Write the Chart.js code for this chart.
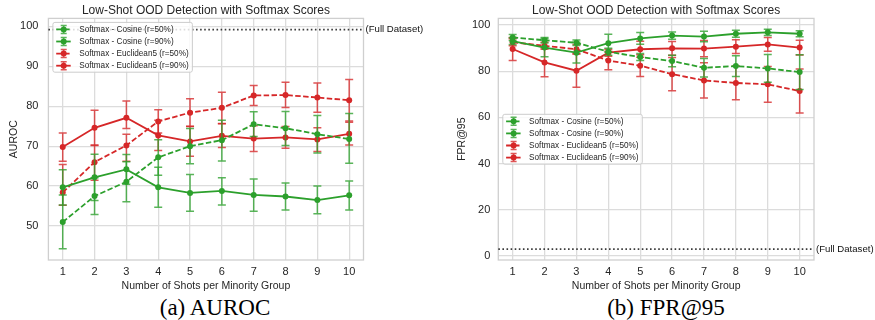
<!DOCTYPE html>
<html><head><meta charset="utf-8">
<script src="https://cdn.jsdelivr.net/npm/chart.js@4.4.0/dist/chart.umd.min.js"></script>
<style>
html,body{margin:0;padding:0;background:#fff;width:875px;height:320px;overflow:hidden;position:relative;}
.wrap{position:absolute;top:0;height:295px;}
.cap{position:absolute;top:295px;height:26px;line-height:26px;width:200px;text-align:center;font-family:"Liberation Serif","Times New Roman",serif;font-size:23px;color:#000;}
</style></head><body>
<div class="wrap" style="left:0;width:437px"><canvas id="c1" width="437" height="295"></canvas></div>
<div class="wrap" style="left:437px;width:438px"><canvas id="c2" width="438" height="295"></canvas></div>
<div class="cap" style="left:115px">(a) AUROC</div>
<div class="cap" style="left:566px">(b) FPR@95</div>
<script>
// ---------- data ----------
const shots = [1, 2, 3, 4, 5, 6, 7, 8, 9, 10];
const seriesLabels = ["Softmax - Cosine (r=50%)", "Softmax - Cosine (r=90%)", "Softmax - Euclidean5 (r=50%)", "Softmax - Euclidean5 (r=90%)"];
const chartTitle = "Low-Shot OOD Detection with Softmax Scores";
const xTitle = "Number of Shots per Minority Group";
const fullLabel = "(Full Dataset)";

// AUROC
const aurocCos50   = [51.0, 57.5, 61.1, 67.2, 70.0, 71.5, 75.5, 74.5, 73.0, 71.8];
const aurocCos50Lo = [44.3, 52.9, 56.1, 62.7, 65.6, 66.3, 72.4, 70.2, 68.3, 65.7];
const aurocCos50Hi = [57.8, 62.1, 66.1, 71.6, 74.4, 76.5, 78.6, 78.7, 77.7, 78.2];
const aurocCos90   = [59.7, 62.2, 64.2, 59.7, 58.3, 58.8, 57.8, 57.4, 56.5, 57.7];
const aurocCos90Lo = [55.3, 56.4, 60.5, 54.7, 53.7, 55.3, 53.7, 54.0, 53.1, 54.0];
const aurocCos90Hi = [64.1, 68.0, 67.9, 64.7, 62.9, 62.1, 61.8, 60.8, 60.0, 61.3];
const aurocEuc50   = [58.4, 66.0, 70.2, 76.2, 78.4, 79.6, 82.7, 82.8, 82.2, 81.5];
const aurocEuc50Lo = [55.2, 61.5, 66.2, 73.3, 75.0, 75.7, 80.2, 79.7, 78.5, 76.3];
const aurocEuc50Hi = [65.4, 70.3, 73.0, 79.1, 81.9, 83.5, 85.2, 86.0, 85.8, 86.7];
const aurocEuc90   = [69.8, 74.6, 77.1, 72.7, 71.2, 72.6, 71.9, 72.2, 71.7, 73.1];
const aurocEuc90Lo = [66.2, 70.2, 74.4, 68.9, 67.5, 69.7, 68.7, 69.5, 68.7, 70.3];
const aurocEuc90Hi = [73.3, 79.0, 81.3, 76.5, 74.9, 75.6, 75.1, 74.9, 74.6, 76.0];
const aurocFull = 99.2;
const aurocTicks = [50, 60, 70, 80, 90, 100];

// FPR@95
const fprCos50   = [94.6, 93.4, 92.3, 88.4, 86.1, 84.4, 81.5, 82.2, 81.2, 79.6];
const fprCos50Lo = [93.3, 92.2, 91.1, 86.9, 84.6, 81.9, 77.5, 77.7, 75.2, 72.1];
const fprCos50Hi = [95.9, 94.6, 93.5, 89.9, 87.6, 86.9, 85.5, 86.7, 87.2, 87.1];
const fprCos90   = [93.0, 90.2, 88.0, 92.1, 94.2, 95.4, 95.0, 96.2, 96.8, 96.2];
const fprCos90Lo = [91.5, 86.2, 83.5, 88.2, 91.7, 93.8, 92.7, 94.7, 95.5, 94.9];
const fprCos90Hi = [94.5, 94.2, 92.5, 96.0, 96.7, 97.0, 97.3, 97.7, 98.1, 97.5];
const fprEuc50   = [92.5, 91.0, 89.5, 84.6, 82.4, 78.7, 76.0, 74.9, 74.3, 71.4];
const fprEuc50Lo = [91.0, 89.5, 87.5, 80.6, 77.7, 71.5, 68.4, 67.6, 66.6, 61.9];
const fprEuc50Hi = [94.0, 92.5, 91.5, 88.6, 87.1, 85.9, 83.6, 82.2, 82.0, 80.9];
const fprEuc90   = [89.6, 83.8, 80.2, 88.0, 89.5, 89.9, 89.8, 90.6, 91.6, 90.2];
const fprEuc90Lo = [84.6, 77.6, 73.0, 86.5, 86.0, 86.9, 86.3, 87.6, 88.6, 87.0];
const fprEuc90Hi = [94.6, 90.0, 87.4, 89.5, 93.0, 92.9, 93.3, 93.6, 94.6, 93.4];
const fprFull = 3.0;
const fprTicks = [0, 20, 40, 60, 80, 100];

// ---------- styling ----------
const GREEN = '#2ca02c', RED = '#d62728';
const TEXT = '#262626';
const FONT = '"Liberation Sans", Arial, Helvetica, sans-serif';
Chart.defaults.font.family = FONT;
Chart.defaults.color = TEXT;

const errPlugin = {
  id: 'errbars',
  beforeDatasetDraw(chart, args) {
    const ds = chart.data.datasets[args.index];
    if (!ds.errLo) return;
    const meta = chart.getDatasetMeta(args.index);
    const ys = chart.scales.y, ctx = chart.ctx;
    ctx.save();
    ctx.strokeStyle = ds.borderColor;
    ctx.globalAlpha = 0.78;
    ctx.lineWidth = 1.5;
    ctx.setLineDash([]);
    meta.data.forEach((pt, i) => {
      const px = pt.x;
      const yl = ys.getPixelForValue(ds.errLo[i]), yh = ys.getPixelForValue(ds.errHi[i]);
      ctx.beginPath();
      ctx.moveTo(px, yl); ctx.lineTo(px, yh);
      ctx.moveTo(px - 4, yl); ctx.lineTo(px + 4, yl);
      ctx.moveTo(px - 4, yh); ctx.lineTo(px + 4, yh);
      ctx.stroke();
    });
    ctx.restore();
  }
};

const framePlugin = {
  id: 'frameFull',
  beforeDatasetsDraw(chart, args, opts) {
    const ctx = chart.ctx, ca = chart.chartArea;
    ctx.save();
    ctx.strokeStyle = '#cfcfcf';
    ctx.lineWidth = 1.3;
    ctx.strokeRect(ca.left, ca.top, ca.right - ca.left, ca.bottom - ca.top);
    const y = chart.scales.y.getPixelForValue(opts.value);
    ctx.strokeStyle = '#3a3a3a';
    ctx.lineWidth = 1.7;
    ctx.setLineDash([1.6, 2.5]);
    ctx.beginPath(); ctx.moveTo(ca.left, y); ctx.lineTo(ca.right, y); ctx.stroke();
    ctx.setLineDash([]);
    ctx.fillStyle = '#111';
    ctx.font = '9.6px ' + FONT;
    ctx.textBaseline = 'middle';
    ctx.textAlign = 'left';
    ctx.fillText(opts.label, ca.right + 2, y);
    ctx.restore();
  }
};

const legendPlugin = {
  id: 'boxLegend',
  afterDraw(chart, args, opts) {
    const ctx = chart.ctx, ca = chart.chartArea;
    const dsets = chart.data.datasets;
    ctx.save();
    ctx.font = '8.2px ' + FONT;
    let tw = 0;
    dsets.forEach(d => { tw = Math.max(tw, ctx.measureText(d.label).width); });
    const rowH = 12.1;
    const w = 26.3 + tw + 3.7;
    const h = 7 + rowH * (dsets.length - 1) + 6.5;
    const x0 = ca.left + 4.5;
    const y0 = opts.loc === 'center' ? (ca.top + ca.bottom) / 2 - h / 2 : ca.top + 4;
    ctx.fillStyle = 'rgba(255,255,255,0.82)';
    ctx.strokeStyle = '#cccccc';
    ctx.lineWidth = 1;
    ctx.beginPath();
    ctx.roundRect(x0, y0, w, h, 2);
    ctx.fill(); ctx.stroke();
    dsets.forEach((d, i) => {
      const cy = y0 + 7 + rowH * i;
      const c = d.borderColor;
      ctx.strokeStyle = c; ctx.fillStyle = c;
      ctx.lineWidth = 1.8;
      ctx.setLineDash(d.borderDash && d.borderDash.length ? d.borderDash : []);
      ctx.beginPath(); ctx.moveTo(x0 + 3.3, cy); ctx.lineTo(x0 + 17.8, cy); ctx.stroke();
      ctx.setLineDash([]);
      const mx = x0 + 10.8;
      ctx.globalAlpha = 0.78;
      ctx.lineWidth = 1.5;
      ctx.beginPath();
      ctx.moveTo(mx, cy - 4); ctx.lineTo(mx, cy + 4);
      ctx.moveTo(mx - 3, cy - 4); ctx.lineTo(mx + 3, cy - 4);
      ctx.moveTo(mx - 3, cy + 4); ctx.lineTo(mx + 3, cy + 4);
      ctx.stroke();
      ctx.globalAlpha = 1;
      ctx.beginPath(); ctx.arc(mx, cy, 3, 0, Math.PI * 2); ctx.fill();
      ctx.fillStyle = TEXT;
      ctx.textBaseline = 'middle';
      ctx.textAlign = 'left';
      ctx.fillText(d.label, x0 + 26.3, cy + 0.5);
    });
    ctx.restore();
  }
};

function makeChart(id, cfg) {
  const colors = [GREEN, GREEN, RED, RED];
  const dashed = [true, false, true, false];
  const datasets = cfg.series.map((s, i) => ({
    label: seriesLabels[i],
    data: shots.map((x, j) => ({ x: x, y: s[0][j] })),
    errLo: s[1], errHi: s[2],
    borderColor: colors[i], backgroundColor: colors[i],
    borderWidth: 1.8,
    borderDash: dashed[i] ? [5.5, 2.4] : [],
    pointRadius: 3, pointHoverRadius: 3, pointBorderWidth: 0,
    pointBackgroundColor: colors[i],
    tension: 0, fill: false
  }));
  return new Chart(document.getElementById(id), {
    type: 'line',
    data: { datasets },
    options: {
      responsive: false, animation: false, devicePixelRatio: 1,
      events: [],
      layout: { padding: { left: 0, right: cfg.padRight, top: 0, bottom: 0 } },
      plugins: {
        legend: { display: false },
        tooltip: { enabled: false },
        title: { display: true, text: chartTitle, fullSize: false, color: TEXT,
                 font: { size: 12, weight: 'normal', family: FONT }, padding: { top: 3, bottom: 1 } },
        boxLegend: { loc: cfg.legendLoc },
        frameFull: { value: cfg.full, label: fullLabel }
      },
      scales: {
        x: {
          type: 'linear', min: 0.55, max: 10.45,
          afterBuildTicks: s => { s.ticks = shots.map(v => ({ value: v })); },
          afterFit: s => { s.height = 35; },
          grid: { color: '#dcdcdc', lineWidth: 1.3, drawTicks: false },
          border: { display: false },
          ticks: { padding: 5.5, autoSkip: false, maxRotation: 0, color: TEXT, font: { size: 11 } },
          title: { display: true, text: xTitle, color: TEXT, font: { size: 10.5 }, padding: { top: 0, bottom: 3 } }
        },
        y: {
          type: 'linear', min: cfg.yMin, max: cfg.yMax,
          afterBuildTicks: s => { s.ticks = cfg.yTicks.map(v => ({ value: v })); },
          afterFit: s => { s.width = cfg.yWidth; },
          grid: { color: '#dcdcdc', lineWidth: 1.3, drawTicks: false },
          border: { display: false },
          ticks: { padding: cfg.yPad, color: TEXT, font: { size: 11 } },
          title: { display: true, text: cfg.yTitle, color: TEXT, font: { size: 10.5 }, padding: { top: cfg.yTitlePad, bottom: 0 } }
        }
      }
    },
    plugins: [errPlugin, framePlugin, legendPlugin]
  });
}

makeChart('c1', {
  series: [
    [aurocCos50, aurocCos50Lo, aurocCos50Hi],
    [aurocCos90, aurocCos90Lo, aurocCos90Hi],
    [aurocEuc50, aurocEuc50Lo, aurocEuc50Hi],
    [aurocEuc90, aurocEuc90Lo, aurocEuc90Hi]
  ],
  yMin: 41.5, yMax: 102.0, yTicks: aurocTicks, yTitle: 'AUROC',
  yWidth: 48.4, yPad: 10, yTitlePad: 8, padRight: 73.5,
  full: aurocFull, legendLoc: 'upper'
});
makeChart('c2', {
  series: [
    [fprCos50, fprCos50Lo, fprCos50Hi],
    [fprCos90, fprCos90Lo, fprCos90Hi],
    [fprEuc50, fprEuc50Lo, fprEuc50Hi],
    [fprEuc90, fprEuc90Lo, fprEuc90Hi]
  ],
  yMin: -1.75, yMax: 102.85, yTicks: fprTicks, yTitle: 'FPR@95',
  yWidth: 61.3, yPad: 8, yTitlePad: 19, padRight: 61,
  full: fprFull, legendLoc: 'center'
});
</script>
</body></html>
